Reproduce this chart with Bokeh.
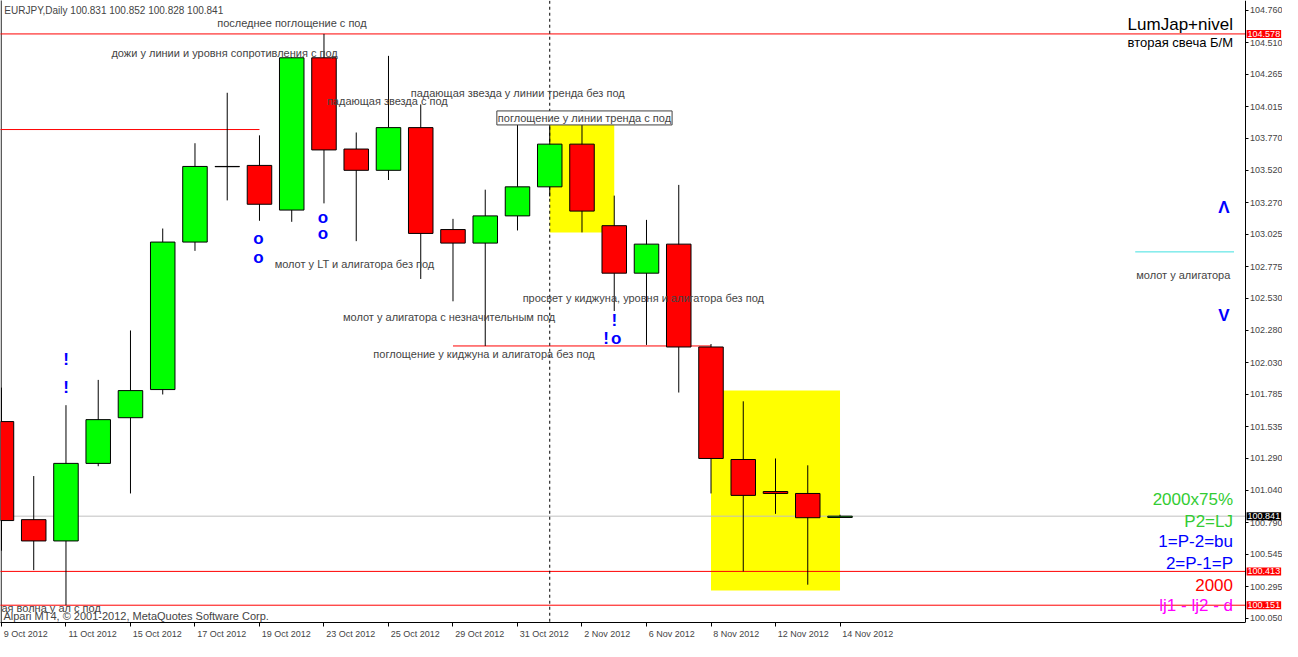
from bokeh.plotting import figure
from bokeh.models import Range1d, FixedTicker, Label, NumeralTickFormatter, LinearAxis
from bokeh.embed import file_html
from bokeh.resources import INLINE
from bokeh.core.properties import value

# ---------------- data ----------------
dates = ["9 Oct 2012", "10 Oct 2012", "11 Oct 2012", "12 Oct 2012", "15 Oct 2012",
         "16 Oct 2012", "17 Oct 2012", "18 Oct 2012", "19 Oct 2012", "22 Oct 2012",
         "23 Oct 2012", "24 Oct 2012", "25 Oct 2012", "26 Oct 2012", "29 Oct 2012",
         "30 Oct 2012", "31 Oct 2012", "1 Nov 2012", "2 Nov 2012", "5 Nov 2012",
         "6 Nov 2012", "7 Nov 2012", "8 Nov 2012", "9 Nov 2012", "12 Nov 2012",
         "13 Nov 2012", "14 Nov 2012"]
opens = [101.574, 100.814, 100.649, 101.250, 101.604, 101.822, 102.965, 103.551, 103.559,
         103.213, 104.393, 103.686, 103.521, 103.852, 103.062, 102.957, 103.168, 103.393,
         103.724, 103.092, 102.724, 102.949, 102.152, 101.280, 101.032, 101.017, 100.831]
highs = [101.837, 101.152, 101.701, 101.897, 102.280, 103.070, 103.731, 104.122, 103.792,
         104.398, 104.578, 103.814, 104.408, 104.032, 103.145, 103.371, 103.874, 103.882,
         103.987, 103.325, 103.137, 103.408, 102.175, 101.731, 101.288, 101.235, 100.852]
lows = [100.573, 100.423, 100.151, 101.228, 101.017, 101.784, 102.897, 103.288, 103.130,
        103.122, 103.265, 102.972, 103.446, 102.679, 102.506, 102.160, 103.055, 103.318,
        103.040, 102.431, 102.168, 101.799, 101.017, 100.413, 100.859, 100.310, 100.828]
closes = [100.807, 100.649, 101.250, 101.589, 101.814, 102.965, 103.551, 103.549, 103.258,
          104.393, 103.679, 103.521, 103.852, 103.032, 102.957, 103.168, 103.393, 103.724,
          103.205, 102.724, 102.949, 102.152, 101.288, 101.002, 101.017, 100.829, 100.841]

price_ticks = [104.760, 104.510, 104.265, 104.015, 103.770, 103.520, 103.270, 103.025,
               102.775, 102.530, 102.280, 102.030, 101.785, 101.535, 101.290, 101.040,
               100.790, 100.545, 100.295, 100.050]

# full-width horizontal levels and their price-box colours
level_prices = [104.578, 100.841, 100.413, 100.151]
level_colors = ["#ff0000", "#c0c0c0", "#ff0000", "#ff0000"]
level_box_colors = ["#ff0000", "#000000", "#ff0000", "#ff0000"]

# yellow rectangles (bar index from/to, price top/bottom)
rect_from = [17, 22]
rect_to = [19, 26]
rect_top = [103.882, 101.814]
rect_bottom = [103.040, 100.265]

# blue signal marks
mark_text = ["!", "!", "o", "o", "o", "o", "!", "!", "o"]
mark_bar = [2, 2, 7.97, 7.97, 9.97, 9.97, 19.0, 18.75, 19.06]
mark_price = [102.055, 101.841, 102.995, 102.844, 103.152, 103.032, 102.356, 102.220, 102.220]

# comments (text, bar index of left edge, price)
notes = [
    ("последнее поглощение с под", 6.69, 104.664),
    ("дожи у линии и уровня сопротивления с под", 3.41, 104.431),
    ("падающая звезда с под", 10.09, 104.062),
    ("падающая звезда у линии тренда без под", 12.69, 104.122),
    ("молот у LT и алигатора без под", 8.47, 102.792),
    ("молот у алигатора с незначительным под", 10.59, 102.386),
    ("поглощение у киджуна и алигатора без под", 11.53, 102.100),
    ("просвет у киджуна, уровня и алигатора без под", 16.16, 102.528),
    ("ая волна у ал с под", 0.0, 100.128),
]
boxed_note = ("поглощение у линии тренда с под", 15.36, 103.927)

right_notes = [
    ("LumJap+nivel", 104.649, "#000000", 17),
    ("вторая свеча Б/М", 104.513, "#000000", 13),
    ("2000x75%", 100.972, "#33cc33", 17),
    ("P2=LJ", 100.799, "#33cc33", 17),
    ("1=P-2=bu", 100.641, "#0000ff", 17),
    ("2=P-1=P", 100.476, "#0000ff", 17),
    ("2000", 100.310, "#ff0000", 17),
    ("lj1 - lj2 - d", 100.145, "#ff00ff", 17),
]

title_text = "EURJPY,Daily  100.831 100.852 100.828 100.841"
copyright_text = "Alpari MT4, © 2001-2012, MetaQuotes Software Corp."

# ---------------- figure ----------------
FONT = "Liberation Sans"
PX_PER_BAR = 32.0
n = len(dates)
idx = list(range(n))

WIDTH = 1282
FRAME_W = 1272          # frame width left after Bokeh's side panel
X0 = -0.03
X1 = X0 + FRAME_W / PX_PER_BAR
AXIS_X = 38.56          # where the price scale sits

def left_of_axis(px):
    return AXIS_X - px / PX_PER_BAR

p = figure(width=WIDTH, height=641, output_backend="svg", toolbar_location=None,
           x_range=Range1d(X0, X1), y_range=Range1d(100.017, 104.837),
           y_axis_location=None, min_border_left=0, min_border_top=0,
           min_border_right=0, min_border_bottom=0)
p.xgrid.visible = False
p.ygrid.visible = False
p.outline_line_color = None
p.background_fill_color = "white"

# left border of chart window
p.segment(x0=[X0 + 0.02], x1=[X0 + 0.02], y0=[99.0], y1=[106.0],
          line_color="black", line_width=1)

# yellow rectangles
p.quad(left=rect_from, right=rect_to, top=rect_top, bottom=rect_bottom,
       fill_color="#ffff00", line_color=None)
p.segment(x0=[rect_from[0]], x1=[rect_to[0]], y0=[rect_top[0]], y1=[rect_top[0]],
          line_color="#0000ff", line_width=1)

# horizontal levels
for lp, lc in zip(level_prices, level_colors):
    p.segment(x0=[-5], x1=[AXIS_X], y0=[lp], y1=[lp], line_color=lc, line_width=1)
# partial horizontal lines
p.segment(x0=[-2], x1=[8], y0=[103.837], y1=[103.837], line_color="#ff0000", line_width=1)
p.segment(x0=[14], x1=[22], y0=[102.160], y1=[102.160], line_color="#ff0000", line_width=1)
p.segment(x0=[left_of_axis(109)], x1=[left_of_axis(11)], y0=[102.889], y1=[102.889],
          line_color="#40e0e0", line_width=1)

# vertical dashed line
p.segment(x0=[17], x1=[17], y0=[99.0], y1=[106.0], line_color="black",
          line_width=1, line_dash="3 3")

# candles
p.segment(x0=idx, x1=idx, y0=lows, y1=highs, line_color="black", line_width=1)
tops = [max(o, c) for o, c in zip(opens, closes)]
bots = [min(o, c) for o, c in zip(opens, closes)]
cols = ["#00ff00" if c > o else "#ff0000" for o, c in zip(opens, closes)]
p.vbar(x=idx, top=tops, bottom=bots, width=0.76, fill_color=cols,
       line_color="black", line_width=1)

# blue marks
p.text(x=mark_bar, y=mark_price, text=mark_text, text_color="#0000ff",
       text_font=value(FONT), text_font_size="17px", text_font_style="bold",
       text_align="center", text_baseline="middle")
p.text(x=[left_of_axis(21)] * 2, y=[103.235, 102.393], text=["Λ", "V"],
       text_color="#0000ff", text_font=value(FONT), text_font_size="17px",
       text_font_style="bold", text_align="center", text_baseline="middle")

# x axis: minor ticks at the bars, labels (major ticks) centred to the right of them
W = {"0": .556, "1": .556, "2": .556, "3": .556, "4": .556, "5": .556, "6": .556,
     "7": .556, "8": .556, "9": .556, " ": .278, "O": .778, "c": .5, "t": .278,
     "N": .722, "o": .556, "v": .5}
LBL_PX = 9
label_bars = idx[::2]
label_pos = []
for i in label_bars:
    wpx = sum(W.get(ch, .55) for ch in dates[i]) * LBL_PX
    label_pos.append(i + (2 + wpx / 2) / PX_PER_BAR)
p.xaxis.ticker = FixedTicker(ticks=label_pos, minor_ticks=label_bars)
p.xaxis.major_label_overrides = {pos: dates[i] for pos, i in zip(label_pos, label_bars)}
p.xaxis.major_label_text_font = FONT
p.xaxis.major_label_text_font_size = f"{LBL_PX}px"
p.xaxis.major_label_standoff = 2
p.xaxis.major_tick_in = 0
p.xaxis.major_tick_out = 0
p.xaxis.minor_tick_out = 4
p.xaxis.minor_tick_in = 0
p.xaxis.minor_tick_line_color = "black"
p.xaxis.axis_line_color = "black"
p.xaxis.bounds = (X0, AXIS_X)

# price scale, drawn at a fixed position on the right
yax = LinearAxis(fixed_location=AXIS_X, ticker=FixedTicker(ticks=price_ticks),
                 formatter=NumeralTickFormatter(format="0.000"))
yax.major_label_text_font = FONT
yax.major_label_text_font_size = "9px"
yax.major_label_standoff = 2
yax.major_tick_in = 0
yax.major_tick_out = 3
yax.minor_tick_out = 0
yax.minor_tick_in = 0
yax.axis_line_color = "black"
p.add_layout(yax, "right")

# texts
p.add_layout(Label(x=0.09, y=104.76, text=title_text, text_font=FONT,
                   text_font_size="10px", text_baseline="middle", text_align="left"))
for t, xb, yp in notes:
    p.add_layout(Label(x=xb, y=yp, text=t, text_font=FONT, text_font_size="11px",
                       text_baseline="middle", text_align="left"))
p.add_layout(Label(x=left_of_axis(108), y=102.709, text="молот у алигатора", text_font=FONT,
                   text_font_size="11px", text_baseline="middle", text_align="left"))
p.add_layout(Label(x=boxed_note[1], y=boxed_note[2], text=boxed_note[0], text_font=FONT,
                   text_font_size="11px", text_baseline="middle", text_align="left",
                   background_fill_color="white", border_line_color="#404040",
                   padding=1))
for t, yp, c, fs in right_notes:
    p.add_layout(Label(x=left_of_axis(12), y=yp, text=t, text_font=FONT,
                       text_font_size=f"{fs}px", text_color=c,
                       text_baseline="middle", text_align="right"))
p.add_layout(Label(x=0.06, y=100.070, text=copyright_text, text_font=FONT,
                   text_font_size="11px", text_baseline="middle", text_align="left"))

# price boxes on the scale
for lp, bc in zip(level_prices, level_box_colors):
    p.add_layout(Label(x=AXIS_X + 1.5 / PX_PER_BAR, y=lp, text=f"{lp:.3f}",
                       text_font=FONT, text_font_size="9px", text_color="white",
                       text_baseline="middle", text_align="left",
                       background_fill_color=bc, padding=1))

open("out.html", "w").write(file_html(p, INLINE))
